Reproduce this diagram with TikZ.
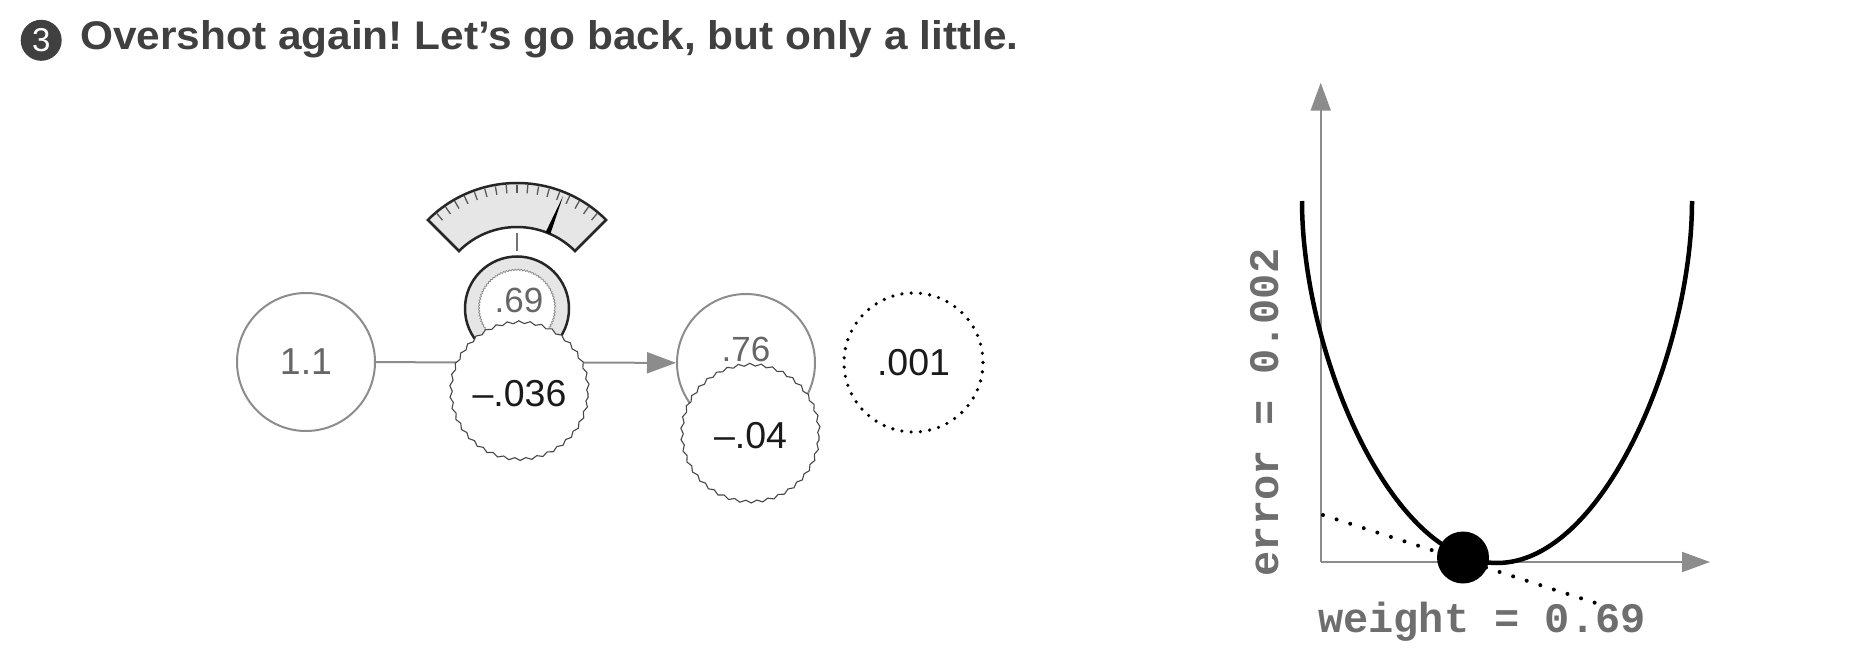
\documentclass[tikz,border=0pt]{standalone}
\usepackage{fontspec}
\setmainfont{Liberation Sans}
\newfontfamily\titlefont{Liberation Sans Bold}[FakeStretch=1.06]
\newfontfamily\monofont{Liberation Mono Bold}
\usetikzlibrary{arrows.meta,calc,decorations.pathmorphing}
\frenchspacing
\definecolor{titlegray}{HTML}{404040}
\definecolor{ringgray}{HTML}{8C8C8C}
\definecolor{numgray}{HTML}{666666}
\definecolor{knobfill}{HTML}{E6E6E6}
\definecolor{labelgray}{HTML}{6E6E6E}
\definecolor{axisgray}{HTML}{8C8C8C}
\definecolor{numblack}{HTML}{1A1A1A}
\tikzset{
  numfont/.style={font=\fontsize{37.5}{40}\selectfont},
  smallnum/.style={font=\fontsize{35}{38}\selectfont, text=numgray, inner sep=0pt},
  plainring/.style={circle, draw=ringgray, line width=2pt, minimum size=138pt, inner sep=0pt, fill=white, numfont, text=numgray},
  wavering/.style={circle, draw=black!72, line width=1.1pt, fill=white, minimum size=137pt, inner sep=0pt,
    decorate, decoration={snake, segment length=11.33pt, amplitude=1.3pt}, numfont, text=numblack},
  dotring/.style={circle, draw=black, line width=3.6pt, dash pattern=on 0pt off 9.29pt, line cap=round,
    minimum size=139pt, inner sep=0pt, numfont, text=numblack},
  knob/.style={circle, draw=black!85, fill=knobfill, line width=2.5pt, minimum size=104pt, inner sep=0pt},
  knobinner/.style={circle, draw=black!45, fill=white, line width=0.8pt, minimum size=76pt, inner sep=0pt,
    decorate, decoration={snake, segment length=2.985pt, amplitude=0.7pt}},
  gauge/.style={fill=knobfill, draw=black!85, line width=2.5pt},
  tickmark/.style={draw=black!65, line width=1.3pt},
  stem/.style={draw=black!55, line width=1.2pt},
  conn/.style={draw=ringgray, line width=2pt, -{Triangle[length=29pt,width=21pt]}},
  axis/.style={draw=axisgray, line width=2pt, -{Triangle[length=28pt,width=20pt]}},
  tangent/.style={draw=black, line width=4pt, dash pattern=on 0pt off 14.27pt, line cap=round},
  curve/.style={draw=black, line width=4.5pt},
  monolabel/.style={font=\monofont\fontsize{42}{44}\selectfont, text=labelgray, inner sep=0pt, anchor=base}
}
\begin{document}
\begin{tikzpicture}[x=1pt,y=-1pt]
\useasboundingbox (0,0) rectangle (1858,650);
% title
\node[circle, fill=titlegray, minimum size=41pt, inner sep=0pt, text=white, font=\fontsize{33}{36}\selectfont] (num) at (41.2,40.3) {3};
\node[anchor=base west, inner sep=0pt, text=titlegray, font=\titlefont\fontsize{40}{44}\selectfont] (title) at (80,50) {Overshot again! Let’s go back, but only a little.};
% gauge
\coordinate (kc) at (517,309);
\draw[gauge] ($(kc)+(45:126pt)$) arc[start angle=45,end angle=135,radius=126pt] -- ($(kc)+(135:82pt)$) arc[start angle=135,end angle=45,radius=82pt] -- cycle;
\foreach \a in {50,55,...,130} \draw[tickmark] ($(kc)+(\a:124.5pt)$) -- ($(kc)+(\a:116pt)$);
\fill[black] ($(kc)+(66.05:82pt)$) -- ($(kc)+(67.8:122pt)$) -- ($(kc)+(69.55:82pt)$) -- cycle;
\coordinate (stemtop) at (517,233);
\coordinate (stembot) at (517,251);
\draw[stem] (stemtop) -- (stembot);
% knob
\node[knob] (knob) at (517,308.5) {};
\node[knobinner] (knobin) at (517,308.5) {};
\node[smallnum] (wval) at (519,300) {.69};
% network
\node[plainring] (in) at (306,362) {1.1};
\node[plainring] (out) at (746,363) {};
\node[smallnum] (outval) at (746,349.5) {.76};
\node[dotring] (err) at (913.5,362.5) {.001};
\draw[conn] (in) -- (out);
\node[wavering] (dw) at (519.5,393.5) {–.036};
\node[wavering] (dout) at (750.5,436) {–.04};
% chart
\coordinate (O) at (1320.7,562);
\coordinate (ytip) at (1320.7,82.7);
\coordinate (xtip) at (1710,562);
\draw[axis] (O) -- (ytip);
\draw[axis] (O) -- (xtip);
\draw[curve] (1302,201) .. controls (1302,351) and (1390,563) .. (1497,563) .. controls (1604,563) and (1692,351) .. (1692,201);
\coordinate (ta) at (1323,515);
\coordinate (tb) at (1608,607);
\draw[tangent] (ta) -- (tb);
\node[circle, fill=black, minimum size=52pt, inner sep=0pt] (ball) at (1463,557.5) {};
\node[monolabel] (wlab) at (1482,632) {weight = 0.69};
\node[monolabel, rotate=90] (elab) at (1278,412.5) {error = 0.002};
\end{tikzpicture}
\end{document}
